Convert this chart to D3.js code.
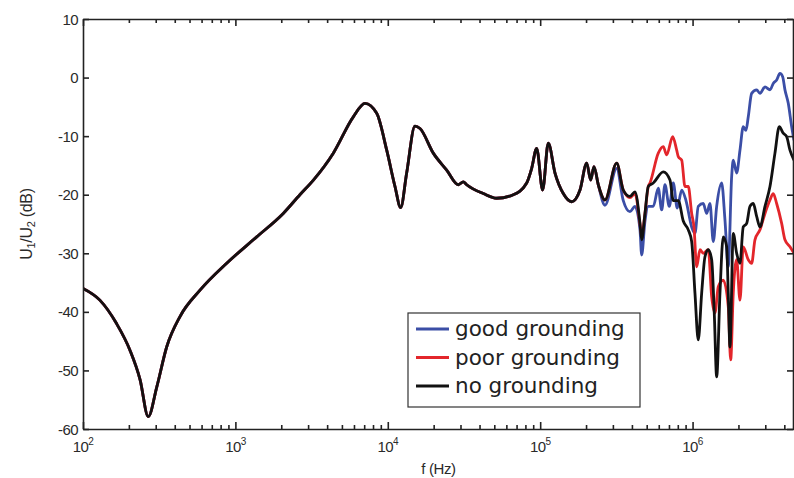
<!DOCTYPE html>
<html>
<head>
<meta charset="utf-8">
<script src="https://cdn.jsdelivr.net/npm/d3@7"></script>
<style>
    body { margin: 0; background: #fff; }
    svg { display: block; font-family: "Liberation Sans", Arial, sans-serif; }
</style>
</head>
<body>
<div id="chart"></div>
<script>
// shared part of the three curves (they lie on top of each other up to ~250 kHz)
const freqCommon = [100, 129, 166, 203, 237, 268, 305, 354, 433, 586, 877, 1380, 2060, 2650, 3250,
    4390, 5940, 7090, 8460, 9840, 11150, 12150, 13300, 15080, 16270, 19890, 24350, 29010, 31290,
    32940, 42330, 51830, 66610, 81540, 87950, 94840, 103800, 113000, 125100, 141800, 161000,
    182500, 202000, 214500, 225400, 240600];
const dbCommon = [-36.0, -38.0, -42.0, -46.5, -51.6, -57.9, -52.8, -46.0, -40.8, -36.3, -31.7, -27.2,
    -23.2, -20.0, -17.5, -12.9, -6.7, -4.4, -6.1, -12.4, -18.6, -22.2, -16.3, -8.3, -8.7, -12.9,
    -15.8, -18.3, -17.8, -18.3, -19.8, -20.6, -20.0, -18.0, -15.5, -12.1, -19.2, -11.2, -16.3,
    -19.8, -21.2, -19.2, -14.6, -17.5, -15.2, -18.3];

// good grounding (above ~250 kHz)
const freqGood = [266200, 317700, 351000, 388400, 418800, 451800, 463400, 487200, 512000, 552200,
    595700, 627000, 659100, 703300, 747200, 793700, 848400, 905300, 986500, 1036800, 1089900,
    1175500, 1237400, 1300700, 1367100, 1439100, 1552000, 1631300, 1714700, 1805000, 1849200,
    1946700, 2046400, 2151100, 2240600, 2320000, 2442100, 2633500, 2768400, 2986700, 3220200,
    3384400, 3562400, 3745000, 3901000, 4038900, 4246200, 4470100, 4628100];
const dbGood = [-21.8, -15.5, -21.0, -22.9, -22.0, -26.0, -30.3, -24.5, -22.0, -22.0, -18.9, -22.6,
    -18.3, -22.0, -18.0, -22.3, -19.2, -21.0, -25.5, -26.6, -22.0, -21.5, -23.2, -21.5, -28.0,
    -22.0, -18.0, -24.3, -32.3, -16.9, -14.1, -16.3, -12.4, -8.4, -9.0, -6.7, -2.7, -2.1, -2.7,
    -1.6, -2.1, -1.0, -0.4, 0.7, 0.15, -2.1, -4.4, -8.4, -10.7];

// poor grounding
const freqPoor = [266200, 317700, 351000, 388400, 418800, 451800, 463400, 487200, 512000, 525400,
    595700, 642400, 676300, 740300, 786600, 805900, 848400, 891600, 937200, 986500, 1021400,
    1063800, 1118400, 1175500, 1267700, 1334500, 1402800, 1474300, 1589900, 1714700, 1778300,
    1849200, 1946700, 2046400, 2151100, 2320000, 2442100, 2566600, 2768400, 2986700, 3220200,
    3384400, 3562400, 3842100, 4038900, 4356300, 4628100];
const dbPoor = [-20.9, -14.6, -19.2, -20.5, -19.8, -25.0, -27.0, -23.2, -18.6, -18.0, -12.9, -11.8,
    -13.2, -10.1, -12.4, -13.5, -14.1, -18.6, -18.6, -23.2, -25.5, -32.3, -29.4, -30.0, -29.4,
    -37.4, -40.2, -35.7, -34.6, -39.1, -48.2, -36.8, -31.1, -38.0, -28.9, -31.1, -31.7, -27.7,
    -26.0, -23.2, -20.9, -19.8, -21.5, -24.9, -27.7, -28.9, -30.0];

// no grounding
const freqNone = [266200, 317700, 351000, 388400, 418800, 451800, 463400, 487200, 512000, 552200,
    642400, 710800, 747200, 805900, 869000, 937200, 986500, 1036800, 1089900, 1147400, 1206100,
    1267700, 1334500, 1388000, 1439100, 1512700, 1589900, 1673800, 1714700, 1759100, 1849200,
    1946700, 2046400, 2151100, 2264600, 2380000, 2501800, 2633500, 2768400, 2986700, 3220200,
    3472500, 3705600, 3936200, 4144400, 4356300, 4628100];
const dbNone = [-20.9, -14.6, -19.2, -20.3, -19.5, -24.9, -27.7, -23.2, -18.6, -18.0, -16.1, -17.5,
    -21.0, -21.0, -24.5, -26.0, -28.0, -36.8, -44.8, -36.8, -30.6, -29.4, -31.1, -40.2, -51.1,
    -36.8, -27.2, -28.9, -36.8, -46.0, -26.6, -30.0, -31.7, -25.5, -24.9, -22.0, -21.5, -23.7,
    -25.5, -22.0, -18.6, -12.9, -8.4, -9.5, -10.1, -12.4, -14.1];

const seriesNames = ["good grounding", "poor grounding", "no grounding"];
const seriesColors = ["#3b4ea6", "#e3262b", "#111111"];
const yTicks = [-60, -50, -40, -30, -20, -10, 0, 10];
const xDecades = [2, 3, 4, 5, 6];

const W = 794, H = 478;
const margin = { left: 83, top: 19, right: 0, bottom: 49 };

function toPoints(fa, da) {
    return fa.map((f, i) => ({ f, db: da[i] }));
}

function drawChart(element) {
    const svg = d3.select(element).append("svg")
        .attr("width", W)
        .attr("height", H);

    const x = d3.scaleLog().domain([100, 4.63e6]).range([margin.left, W - margin.right]);
    const y = d3.scaleLinear().domain([-60, 10]).range([H - margin.bottom, margin.top]);

    const common = toPoints(freqCommon, dbCommon);
    const series = [
        common.concat(toPoints(freqGood, dbGood)),
        common.concat(toPoints(freqPoor, dbPoor)),
        common.concat(toPoints(freqNone, dbNone))
    ];

    svg.append("clipPath").attr("id", "plot")
        .append("rect")
        .attr("x", x.range()[0]).attr("y", y.range()[1])
        .attr("width", x.range()[1] - x.range()[0])
        .attr("height", y.range()[0] - y.range()[1]);

    const line = d3.line()
        .x(d => x(d.f))
        .y(d => y(d.db))
        .curve(d3.curveMonotoneX);

    svg.append("g").attr("clip-path", "url(#plot)")
        .selectAll("path")
        .data(series)
        .enter()
        .append("path")
        .attr("d", line)
        .attr("fill", "none")
        .attr("stroke", (d, i) => seriesColors[i])
        .attr("stroke-width", 2.8)
        .attr("stroke-linejoin", "round");

    // axes with inward ticks on all four sides
    const minor = [];
    for (let e = 2; e < 7; e++) for (let m = 1; m < 10; m++) {
        const v = m * Math.pow(10, e);
        if (v >= 100 && v <= 4.63e6) minor.push(v);
    }
    const isMajor = v => Math.abs(Math.log10(v) % 1) < 1e-9;

    svg.append("g").attr("transform", `translate(0,${y.range()[0]})`)
        .call(d3.axisBottom(x).tickValues(minor).tickSizeInner(-4).tickSizeOuter(0).tickFormat(""))
        .call(g => g.selectAll(".tick line").filter(d => isMajor(d)).attr("y2", -7));
    svg.append("g").attr("transform", `translate(0,${y.range()[1]})`)
        .call(d3.axisTop(x).tickValues(minor).tickSizeInner(-4).tickSizeOuter(0).tickFormat(""))
        .call(g => g.selectAll(".tick line").filter(d => isMajor(d)).attr("y2", 7));
    svg.append("g").attr("transform", `translate(${x.range()[0]},0)`)
        .call(d3.axisLeft(y).tickValues(yTicks).tickSizeInner(-6).tickSizeOuter(0).tickFormat(""));
    svg.append("g").attr("transform", `translate(${x.range()[1] - 1},0)`)
        .call(d3.axisRight(y).tickValues(yTicks).tickSizeInner(-6).tickSizeOuter(0).tickFormat(""));
    svg.selectAll(".domain, .tick line").attr("stroke", "#222").attr("stroke-width", 1.6);

    // y tick labels
    svg.append("g").selectAll("text")
        .data(yTicks)
        .enter()
        .append("text")
        .attr("x", x.range()[0] - 5)
        .attr("y", d => y(d) + 5.5)
        .attr("text-anchor", "end")
        .attr("font-size", 15)
        .attr("letter-spacing", -0.6)
        .attr("fill", "#2a2a2a")
        .text(d => d);

    // x tick labels 10^n
    const xl = svg.append("g").selectAll("text")
        .data(xDecades)
        .enter()
        .append("text")
        .attr("x", d => x(Math.pow(10, d)))
        .attr("y", 452)
        .attr("text-anchor", "middle")
        .attr("font-size", 15)
        .attr("letter-spacing", -0.6)
        .attr("fill", "#2a2a2a");
    xl.append("tspan").text("10");
    xl.append("tspan").attr("dy", -7).attr("font-size", 10).text(d => d);

    svg.append("text")
        .attr("x", (x.range()[0] + x.range()[1]) / 2)
        .attr("y", 474)
        .attr("text-anchor", "middle")
        .attr("font-size", 15)
        .attr("letter-spacing", -0.4)
        .attr("fill", "#2a2a2a")
        .text("f (Hz)");

    const yl = svg.append("text")
        .attr("transform", `translate(32,${(y.range()[0] + y.range()[1]) / 2}) rotate(-90)`)
        .attr("text-anchor", "middle")
        .attr("font-size", 16)
        .attr("letter-spacing", -0.3)
        .attr("fill", "#2a2a2a");
    yl.append("tspan").text("U");
    yl.append("tspan").attr("font-size", 11).attr("dy", 3).text("1");
    yl.append("tspan").attr("dy", -3).text("/U");
    yl.append("tspan").attr("font-size", 11).attr("dy", 3).text("2");
    yl.append("tspan").attr("dy", -3).text(" (dB)");

    // legend
    const lg = svg.append("g").attr("transform", "translate(408,313)");
    lg.append("rect")
        .attr("width", 232).attr("height", 94)
        .attr("fill", "#fff")
        .attr("stroke", "#333")
        .attr("stroke-width", 1.2);
    const rows = lg.selectAll("g.row")
        .data(seriesNames)
        .enter()
        .append("g")
        .attr("class", "row")
        .attr("transform", (d, i) => `translate(0,${16 + i * 28.5})`);
    rows.append("line")
        .attr("x1", 8).attr("x2", 41)
        .attr("stroke", (d, i) => seriesColors[i])
        .attr("stroke-width", 2.8);
    rows.append("text")
        .attr("x", 47)
        .attr("y", 7)
        .attr("font-family", "'DejaVu Sans', sans-serif")
        .attr("font-size", 21.5)
        .attr("fill", "#222")
        .text(d => d);
}

drawChart(document.getElementById("chart"));
</script>
</body>
</html>
